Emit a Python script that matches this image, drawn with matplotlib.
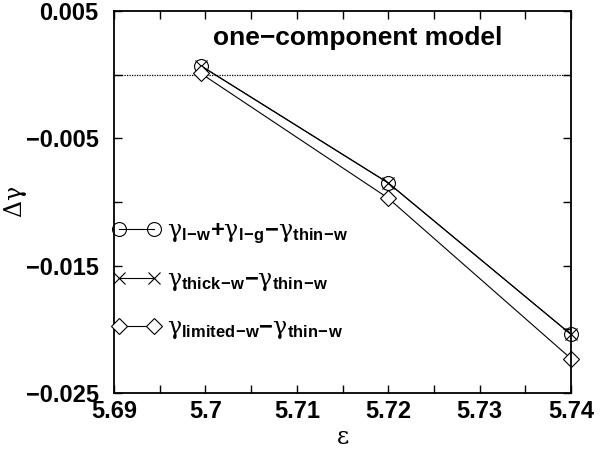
import matplotlib
matplotlib.use('Agg')
import matplotlib.pyplot as plt
from matplotlib.ticker import MultipleLocator

plt.rcParams['font.family'] = ['Liberation Sans', 'DejaVu Sans']
plt.rcParams['mathtext.fontset'] = 'custom'
plt.rcParams['mathtext.rm'] = 'DejaVu Serif'
plt.rcParams['mathtext.it'] = 'DejaVu Serif:italic'
plt.rcParams['mathtext.bf'] = 'Liberation Sans:bold'

# data
eps = [5.6995, 5.72, 5.74]
lw_lg_thin = [0.0007, -0.0085, -0.0204]
thick_thin = [0.0007, -0.0085, -0.0204]
limited_thin = [0.0001, -0.0097, -0.0223]

labels = [r'$\mathrm{\gamma}_{\mathbf{l\!-\!w}}\mathbf{+}\mathrm{\gamma}_{\mathbf{l\!-\!g}}\mathbf{-}\mathrm{\gamma}_{\mathbf{thin\!-\!w}}$',
          r'$\mathrm{\gamma}_{\mathbf{thick\!-\!w}}\mathbf{-}\mathrm{\gamma}_{\mathbf{thin\!-\!w}}$',
          r'$\mathrm{\gamma}_{\mathbf{limited\!-\!w}}\mathbf{-}\mathrm{\gamma}_{\mathbf{thin\!-\!w}}$']

fig = plt.figure(figsize=(6.09, 4.53), dpi=100)
ax = fig.add_axes([114/609, 1 - 393/453, (571-114)/609, (393-11)/453])

ax.axhline(0, color='black', lw=0.9, ls=(0, (1, 1)))

ax.plot(eps, lw_lg_thin, color='black', lw=0.8, marker='o', ms=10,
        mfc='none', mec='black', mew=0.8, label=labels[0], clip_on=False)
ax.plot(eps, thick_thin, color='black', lw=0.8, marker='x', ms=8,
        mec='black', mew=0.8, label=labels[1], clip_on=False)
ax.plot(eps, limited_thin, color='black', lw=0.8, marker='D', ms=8,
        mfc='white', mec='black', mew=0.8, label=labels[2], clip_on=False)

ax.set_xlim(5.69, 5.74)
ax.set_ylim(-0.025, 0.005)
ax.set_xticks([5.69, 5.70, 5.71, 5.72, 5.73, 5.74])
ax.set_xticklabels(['5.69', '5.7', '5.71', '5.72', '5.73', '5.74'])
ax.set_yticks([0.005, -0.005, -0.015, -0.025])
ax.set_yticklabels(['0.005', '\u22120.005', '\u22120.015', '\u22120.025'])
ax.xaxis.set_minor_locator(MultipleLocator(0.005))
ax.yaxis.set_minor_locator(MultipleLocator(0.005))
ax.tick_params(which='both', direction='in', top=True, right=True,
               labelsize=17, width=1, length=6)
ax.tick_params(axis='y', pad=11)
ax.tick_params(axis='x', pad=5)
for lab in ax.get_xticklabels() + ax.get_yticklabels():
    lab.set_fontweight('bold')
for s in ax.spines.values():
    s.set_linewidth(1.3)

ax.set_xlabel(r'$\mathrm{\varepsilon}$', fontsize=17, labelpad=3)
ax.set_ylabel(r'$\Delta\mathrm{\gamma}$', fontsize=17)
ax.yaxis.set_label_coords(-0.185, 0.5)

ax.text(0.534, 0.911, 'one\u2212component model', transform=ax.transAxes,
        ha='center', va='baseline', fontsize=19, fontweight='bold')

ax.legend(loc='upper left', bbox_to_anchor=(-0.026, 0.478), frameon=False,
          numpoints=2, handlelength=2.1, handletextpad=0.25,
          labelspacing=1.0, fontsize=17, borderaxespad=0)

fig.savefig('out.png', dpi=100)
